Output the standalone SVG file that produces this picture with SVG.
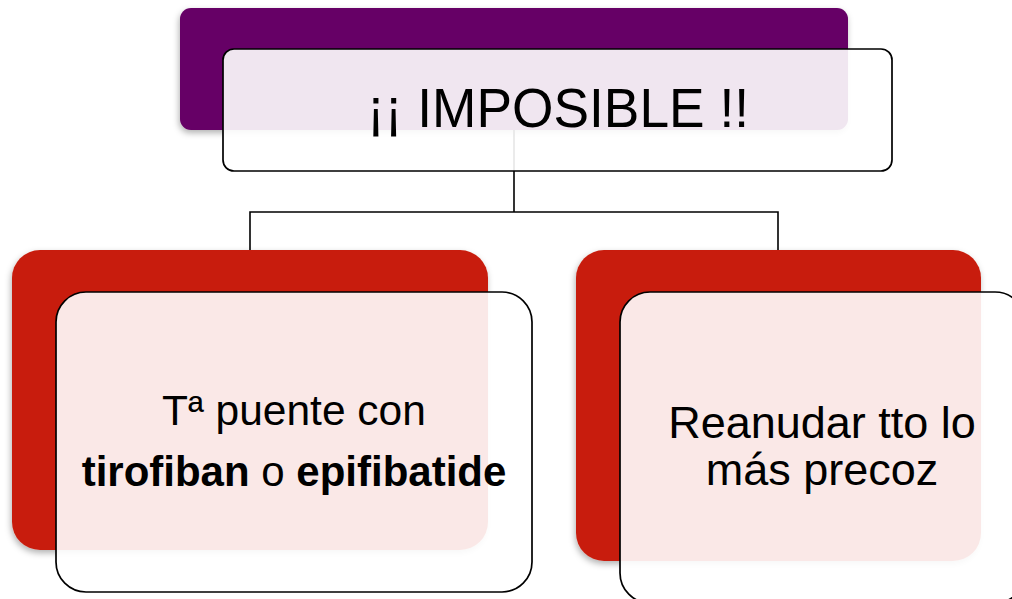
<svg xmlns="http://www.w3.org/2000/svg" width="1012" height="599" viewBox="0 0 1012 599">
<defs>
<filter id="sh" x="-10%" y="-10%" width="120%" height="130%">
<feDropShadow dx="-1" dy="3" stdDeviation="3" flood-color="#000" flood-opacity="0.3"/>
</filter>
<style>
.conn{fill:none;stroke:#000;stroke-width:1.6}
.purple{fill:#660066;filter:url(#sh)}
.red{fill:#C81F0E;filter:url(#sh)}
.front{fill:#fff;fill-opacity:0.9;stroke:#000;stroke-width:1.7}
.t{font-family:"Liberation Sans",Arial,sans-serif;fill:#000;text-anchor:middle}
.b{font-weight:bold}
</style>
</defs>
<rect width="1012" height="599" fill="#fff"/>
<g id="connectors">
<path class="conn" d="M514 130 V212"/>
<path class="conn" d="M250 250 V212 H778 V250"/>
</g>
<g id="node-imposible">
<rect class="purple" x="180" y="8" width="668" height="122" rx="11"/>
<rect class="front" x="223" y="49" width="669" height="122" rx="11"/>
<text class="t" x="558" y="127" font-size="56" textLength="382" lengthAdjust="spacingAndGlyphs">¡¡ IMPOSIBLE !!</text>
</g>
<g id="node-left">
<rect class="red" x="12" y="250" width="476" height="300" rx="28"/>
<rect class="front" x="56" y="292" width="476" height="300" rx="30"/>
<text class="t" x="294" y="425" font-size="42.5">Tª puente con</text>
<text class="t" x="294" y="486" font-size="42"><tspan class="b">tirofiban</tspan> o <tspan class="b">epifibatide</tspan></text>
</g>
<g id="node-right">
<rect class="red" x="576" y="250" width="405" height="311" rx="28"/>
<rect class="front" x="620" y="292" width="405" height="311" rx="30"/>
<text class="t" x="822" y="438" font-size="45">Reanudar tto lo</text>
<text class="t" x="822" y="485" font-size="45">más precoz</text>
</g>
</svg>
